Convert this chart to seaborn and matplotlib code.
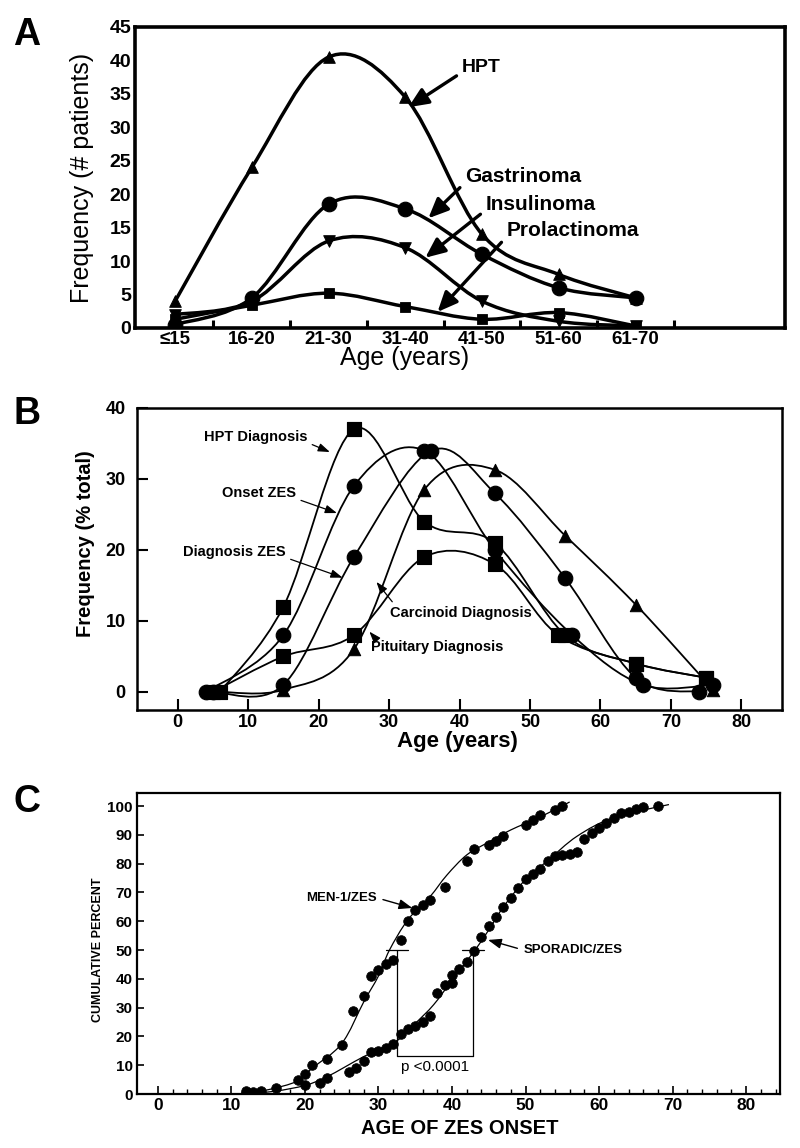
import numpy as np
import seaborn as sns
import matplotlib.pyplot as plt
from matplotlib.path import Path
from matplotlib.patches import PathPatch

# ---- Panel A: number of patients per age group ----
age_groups = ['≤15', '16-20', '21-30', '31-40', '41-50', '51-60', '61-70']
hpt_counts = [4, 24, 40.5, 34.5, 14, 8, 4.5]
gastrinoma_counts = [0.5, 4.5, 18.5, 17.8, 11, 6, 4.5]
insulinoma_counts = [2, 4, 13, 12, 4, 1, 0.3]
prolactinoma_counts = [1.3, 3.4, 5.2, 3.2, 1.3, 2.3, 0.3]

# ---- Panel B: % of total by age ----
hpt_dx_age = [6, 15, 25, 35, 45, 55, 65, 75]
hpt_dx_pct = [0, 12, 37, 24, 21, 8, 4, 2]
onset_zes_age = [4, 15, 25, 35, 45, 56, 66, 76]
onset_zes_pct = [0, 8, 29, 34, 20, 8, 1, 1]
dx_zes_age = [5, 15, 25, 36, 45, 55, 65, 74]
dx_zes_pct = [0, 1, 19, 34, 28, 16, 2, 0]
carcinoid_age = [6, 15, 25, 35, 45, 55, 65, 76]
carcinoid_pct = [0, 0.3, 6, 28.5, 31.3, 22, 12.3, 0.3]
pituitary_age = [5, 15, 25, 35, 45, 54, 65, 75]
pituitary_pct = [0, 5, 8, 19, 18, 8, 4, 2]

# ---- Panel C: cumulative percent vs age of ZES onset ----
men1_age = [12, 13, 14, 16, 19, 20, 21, 23, 25, 26.5, 28, 29, 30, 31, 32, 33, 34, 35,
            36, 37, 39, 42, 43, 45, 46, 47, 50, 51, 52, 54, 55]
men1_pct = [1, 0.8, 1, 2, 5, 7, 10, 12, 17, 29, 34, 41, 43, 45, 46.5, 53.5, 60, 64,
            65.5, 67.5, 72, 81, 85, 86.5, 88, 89.5, 93.5, 95, 97, 98.5, 100]
sporadic_age = [12, 20, 22, 23, 26, 27, 28, 29, 30, 31, 32, 33, 34, 35, 36, 37, 38, 39,
                40, 40, 41, 42, 43, 44, 45, 46, 47, 48, 49, 50, 51, 52, 53, 54, 55,
                56, 57, 58, 59, 60, 61, 62, 63, 64, 65, 66, 68]
sporadic_pct = [0.3, 3, 4, 5.5, 7.5, 9, 11.5, 14.5, 15, 16, 17.5, 21, 22.5, 23.5, 25,
                27, 35, 38, 38.5, 41.5, 43.5, 46, 49.5, 54.5, 58.5, 61.5, 65, 68, 71.5,
                74.5, 76.5, 78, 81, 82.5, 83, 83.5, 84, 88.5, 90.5, 92.5, 94, 96, 97.5,
                98, 99, 99.5, 100]
men1_fit_age = [12, 15, 19, 21, 25, 28, 30, 31.5, 34, 37, 39.3, 42, 45, 48, 52, 56]
men1_fit_pct = [0.5, 1.5, 4.5, 9, 17.5, 32, 41, 50, 60.5, 68.5, 76, 83, 87.5, 91.7, 96.2, 101.4]
sporadic_fit_age = [12, 16, 20, 23, 28, 32.5, 35, 37.5, 40, 43, 45, 47, 50, 53, 57, 62, 69.5]
sporadic_fit_pct = [0, 1, 3, 6, 13, 18.5, 24.5, 31, 39.5, 49.5, 57, 65, 74.5, 81, 89.5, 96, 100.5]
men1_median_age = 32.5
sporadic_median_age = 42.9
bracket_low_pct = 13.2


def smooth_line(ax, xs, ys, lw):
    # cubic Bezier path through the points, drawn in data coordinates
    x = np.asarray(xs, float)
    y = np.asarray(ys, float)
    verts = [(x[0], y[0])]
    codes = [Path.MOVETO]
    n = len(x)
    for i in range(n - 1):
        xp, yp = (x[i - 1], y[i - 1]) if i > 0 else (x[i], y[i])
        xn, yn = (x[i + 2], y[i + 2]) if i + 2 < n else (x[i + 1], y[i + 1])
        verts += [(x[i] + (x[i + 1] - xp) / 6, y[i] + (y[i + 1] - yp) / 6),
                  (x[i + 1] - (xn - x[i]) / 6, y[i + 1] - (yn - y[i]) / 6),
                  (x[i + 1], y[i + 1])]
        codes += [Path.CURVE4] * 3
    ax.add_patch(PathPatch(Path(verts, codes), fill=False, lw=lw,
                           edgecolor='black', zorder=2))


sns.set_style('ticks', {'xtick.direction': 'in', 'ytick.direction': 'in',
                        'axes.edgecolor': 'black', 'text.color': 'black',
                        'axes.labelcolor': 'black', 'xtick.color': 'black',
                        'ytick.color': 'black'})
plt.rcParams['font.family'] = ['Liberation Sans', 'DejaVu Sans']

fig = plt.figure(figsize=(8, 11.48), dpi=100)
axA = fig.add_axes([0.169, 0.7143, 0.8125, 0.2622])
axB = fig.add_axes([0.171, 0.3815, 0.806, 0.2631])
axC = fig.add_axes([0.171, 0.047, 0.804, 0.2622])

# ================= Panel A =================
pos = np.arange(len(age_groups))
for vals, mk, size in [(hpt_counts, '^', 70), (gastrinoma_counts, 'o', 110),
                       (insulinoma_counts, 'v', 70), (prolactinoma_counts, 's', 55)]:
    smooth_line(axA, pos, vals, 2.5)
    sns.scatterplot(x=pos, y=vals, marker=mk, s=size, color='black',
                    edgecolor='black', ax=axA, zorder=3)
axA.set_xlim(-0.52, 7.95)
axA.set_ylim(0, 45)
axA.set_xticks(pos)
axA.set_xticklabels(age_groups, fontsize=13.5, fontweight='bold')
axA.set_xticks(pos + 0.5, minor=True)
axA.set_yticks(range(0, 46, 5))
axA.set_yticklabels(range(0, 46, 5), fontsize=14, fontweight='bold')
axA.tick_params(axis='x', which='major', length=0, pad=2)
axA.tick_params(axis='x', which='minor', length=6, width=2.2, direction='in')
axA.tick_params(axis='y', length=0, pad=3)
for sp in axA.spines.values():
    sp.set_linewidth(2.6)
axA.set_xlabel('Age (years)', fontsize=18, va='center')
axA.xaxis.set_label_coords(0.415, -0.1)
axA.set_ylabel('Frequency (# patients)', fontsize=18, va='center')
axA.yaxis.set_label_coords(-0.082, 0.5)

big_arrow = dict(arrowstyle='-|>,head_length=0.5,head_width=0.22', lw=2.4,
                 color='black', mutation_scale=24, shrinkA=2, shrinkB=0)
for label, head, txt, fs in [('HPT', (3.04, 33.0), (3.74, 39.0), 14),
                             ('Gastrinoma', (3.30, 16.4), (3.78, 22.6), 15),
                             ('Insulinoma', (3.26, 10.5), (4.05, 18.5), 15),
                             ('Prolactinoma', (3.42, 2.4), (4.32, 14.5), 15)]:
    axA.annotate(label, xy=head, xytext=txt, ha='left', va='center', fontsize=fs,
                 fontweight='bold', arrowprops=dict(big_arrow, relpos=(0, 0.2)))

# ================= Panel B =================
for ages, vals, mk, size in [(hpt_dx_age, hpt_dx_pct, 's', 110),
                             (onset_zes_age, onset_zes_pct, 'o', 110),
                             (dx_zes_age, dx_zes_pct, 'o', 110),
                             (carcinoid_age, carcinoid_pct, '^', 80),
                             (pituitary_age, pituitary_pct, 's', 100)]:
    smooth_line(axB, ages, vals, 1.3)
    sns.scatterplot(x=ages, y=vals, marker=mk, s=size, color='black',
                    edgecolor='black', ax=axB, zorder=3)
axB.set_xlim(-5.8, 85.7)
axB.set_ylim(-2.55, 40)
axB.set_xticks(range(0, 81, 10))
axB.set_yticks(range(0, 41, 10))
axB.tick_params(axis='both', length=8, width=1.5, direction='in', labelsize=13)
axB.tick_params(axis='y', pad=8)
axB.tick_params(axis='x', pad=3)
for lbl in axB.get_xticklabels() + axB.get_yticklabels():
    lbl.set_fontweight('bold')
for sp in axB.spines.values():
    sp.set_linewidth(1.8)
axB.set_xlabel('Age (years)', fontsize=16, fontweight='bold', va='center')
axB.xaxis.set_label_coords(0.498, -0.104)
axB.set_ylabel('Frequency (% total)', fontsize=14.5, fontweight='bold', va='center')
axB.yaxis.set_label_coords(-0.079, 0.55)

small_arrow = dict(arrowstyle='-|>,head_length=0.7,head_width=0.25', lw=0.9,
                   color='black', mutation_scale=10, shrinkA=1, shrinkB=0)
for label, head, txt, ha, rp in [('HPT Diagnosis', (21.6, 33.8), (11.1, 35.9), 'center', (1, 0.1)),
                                 ('Onset ZES', (22.6, 25.2), (11.6, 28.0), 'center', (1, 0.1)),
                                 ('Diagnosis ZES', (23.4, 16.1), (8.1, 19.7), 'center', (1, 0.1)),
                                 ('Carcinoid Diagnosis', (28.2, 15.5), (30.1, 11.1), 'left', (0.05, 0.9)),
                                 ('Pituitary Diagnosis', (27.2, 8.5), (27.5, 6.3), 'left', (0.05, 0.9))]:
    axB.annotate(label, xy=head, xytext=txt, ha=ha, va='center', fontsize=10.5,
                 fontweight='bold', arrowprops=dict(small_arrow, relpos=rp))

# ================= Panel C =================
smooth_line(axC, men1_fit_age, men1_fit_pct, 0.9)
smooth_line(axC, sporadic_fit_age, sporadic_fit_pct, 0.9)
sns.scatterplot(x=men1_age, y=men1_pct, marker='o', s=48, color='black',
                edgecolor='black', ax=axC, zorder=3)
sns.scatterplot(x=sporadic_age, y=sporadic_pct, marker='o', s=48, color='black',
                edgecolor='black', ax=axC, zorder=3)
for m in (men1_median_age, sporadic_median_age):
    axC.plot([m, m], [bracket_low_pct, 50], color='black', lw=0.9)
    axC.plot([m - 1.5, m + 1.5], [50, 50], color='black', lw=0.9)
axC.plot([men1_median_age, sporadic_median_age], [bracket_low_pct, bracket_low_pct],
         color='black', lw=0.9)
axC.text((men1_median_age + sporadic_median_age) / 2, 9.4, 'p <0.0001',
         ha='center', va='center', fontsize=11)
axC.set_xlim(-2.86, 84.6)
axC.set_ylim(0, 104.5)
axC.set_xticks(range(0, 81, 10))
axC.set_xticks(range(0, 85, 2), minor=True)
axC.set_yticks(range(0, 101, 10))
axC.tick_params(axis='x', which='major', length=6, width=1.2, direction='in',
                labelsize=12.5, pad=3)
axC.tick_params(axis='x', which='minor', length=3.5, width=1.0, direction='in')
axC.tick_params(axis='y', length=5, width=1.2, direction='in', labelsize=11, pad=3)
for lbl in axC.get_xticklabels() + axC.get_yticklabels():
    lbl.set_fontweight('bold')
for sp in axC.spines.values():
    sp.set_linewidth(1.6)
axC.set_xlabel('AGE OF ZES ONSET', fontsize=14.5, fontweight='bold', va='center')
axC.xaxis.set_label_coords(0.502, -0.113)
axC.set_ylabel('CUMULATIVE PERCENT', fontsize=9, fontweight='bold', va='center')
axC.yaxis.set_label_coords(-0.061, 0.48)

thin_arrow = dict(arrowstyle='-|>,head_length=0.8,head_width=0.3', lw=1.0,
                  color='black', mutation_scale=10, shrinkA=2, shrinkB=0)
axC.annotate('MEN-1/ZES', xy=(34.6, 64.6), xytext=(29.8, 68.1), ha='right', va='center',
             fontsize=9.5, fontweight='bold', arrowprops=dict(thin_arrow, relpos=(1, 0.5)))
axC.annotate('SPORADIC/ZES', xy=(44.9, 53.5), xytext=(49.7, 50.0), ha='left', va='center',
             fontsize=9.5, fontweight='bold', arrowprops=dict(thin_arrow, relpos=(0, 0.5)))

# panel letters
for letter, yfig in [('A', 0.9695), ('B', 0.6394), ('C', 0.3014)]:
    fig.text(0.0335, yfig, letter, fontsize=27, fontweight='bold', ha='center', va='center')

fig.savefig('out.png', dpi=100)
